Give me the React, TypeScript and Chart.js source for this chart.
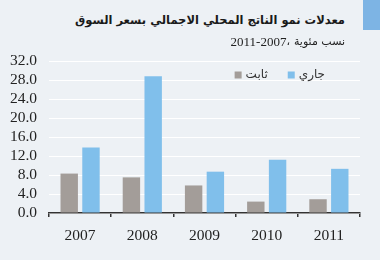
import React, { useEffect, useRef } from "react";
import { Chart, registerables } from "chart.js";

Chart.register(...registerables);

const years = ["2007", "2008", "2009", "2010", "2011"];
const constantLabel = "ثابت";
const currentLabel = "جاري";
const constantValues = [8.3, 7.5, 5.8, 2.4, 2.9];
const currentValues = [13.8, 28.8, 8.7, 11.2, 9.3];
const titleText = "معدلات نمو الناتج المحلي الاجمالي بسعر السوق";
const subtitleYears = "2011-2007";
const subtitleComma = "،";
const subtitleUnit = "نسب مئوية";

const legendPlugin = {
  id: "insideLegend",
  afterDraw(chart: any) {
    const { ctx, chartArea } = chart;
    const items = chart.data.datasets.map((d: any) => ({ text: d.label, color: d.backgroundColor }));
    ctx.save();
    ctx.direction = "ltr";
    ctx.font = "12px 'DejaVu Sans'";
    ctx.textBaseline = "middle";
    const box = 7;
    const gap = 4;
    const itemGap = 20;
    const y = chartArea.top + 14;
    let x = chartArea.right - 35;
    for (let i = items.length - 1; i >= 0; i--) {
      const w = ctx.measureText(items[i].text).width;
      const start = x - w - gap - box;
      ctx.fillStyle = items[i].color;
      ctx.fillRect(start, y - box / 2, box, box);
      ctx.fillStyle = "#333";
      ctx.textAlign = "left";
      ctx.fillText(items[i].text, start + box + gap, y);
      x = start - itemGap;
    }

    // subtitle line, laid out piece by piece (right to left)
    const sy = 42;
    let sx = 345;
    ctx.fillStyle = "#222";
    ctx.textAlign = "right";
    ctx.font = "11px 'DejaVu Sans'";
    ctx.fillText(subtitleUnit, sx, sy);
    sx -= ctx.measureText(subtitleUnit).width + 4;
    ctx.fillText(subtitleComma, sx, sy);
    sx -= ctx.measureText(subtitleComma).width;
    ctx.font = "13px 'Liberation Serif'";
    ctx.fillText(subtitleYears, sx, sy + 1);
    ctx.restore();
  },
};

export default function App() {
  const ref = useRef<HTMLCanvasElement>(null);
  useEffect(() => {
    document.body.style.margin = "0";
    const chart = new Chart(ref.current!, {
      type: "bar",
      data: {
        labels: years,
        datasets: [
          { label: constantLabel, data: constantValues, backgroundColor: "#a39d99", categoryPercentage: 0.7, barPercentage: 0.8 },
          { label: currentLabel, data: currentValues, backgroundColor: "#80bfeb", categoryPercentage: 0.7, barPercentage: 0.8 },
        ],
      },
      options: {
        animation: false,
        responsive: false,
        maintainAspectRatio: false,
        layout: { padding: { top: 61, right: 20, bottom: 0, left: 0 } },
        plugins: { legend: { display: false }, tooltip: { enabled: false }, title: { display: false } },
        scales: {
          x: {
            grid: { display: true, drawOnChartArea: false, tickLength: 4, color: "#333", lineWidth: 1.5 },
            border: { display: true, color: "#333", width: 1.5 },
            ticks: { color: "#222", font: { family: "'Liberation Serif'", size: 15.5 }, padding: 10 },
            afterFit: (s: any) => { s.height = 47; },
          },
          y: {
            min: 0,
            max: 32,
            grid: { color: "#ffffff", lineWidth: 1, drawTicks: false },
            border: { display: false },
            ticks: {
              stepSize: 4,
              autoSkip: false,
              color: "#222",
              padding: 12,
              font: { family: "'Liberation Serif'", size: 15.5 },
              callback: (v: any) => Number(v).toFixed(1),
            },
            afterFit: (s: any) => { s.width = 49; },
          },
        },
      },
      plugins: [legendPlugin],
    });
    return () => chart.destroy();
  }, []);

  return (
    <div style={{ position: "relative", width: 380, height: 260, background: "#edf1f5", overflow: "hidden" }}>
      <div style={{ position: "absolute", right: 0, top: 0, width: 17, height: 30, background: "#7db4e4" }} />
      <div style={{ position: "absolute", right: 35, top: 10, fontFamily: "'DejaVu Sans'", fontWeight: "bold", fontSize: 11.5, color: "#1a1a1a", whiteSpace: "nowrap", lineHeight: "20px" }}>
        {titleText}
      </div>
      <canvas ref={ref} width={380} height={260} style={{ position: "absolute", left: 0, top: 0 }} />
    </div>
  );
}
